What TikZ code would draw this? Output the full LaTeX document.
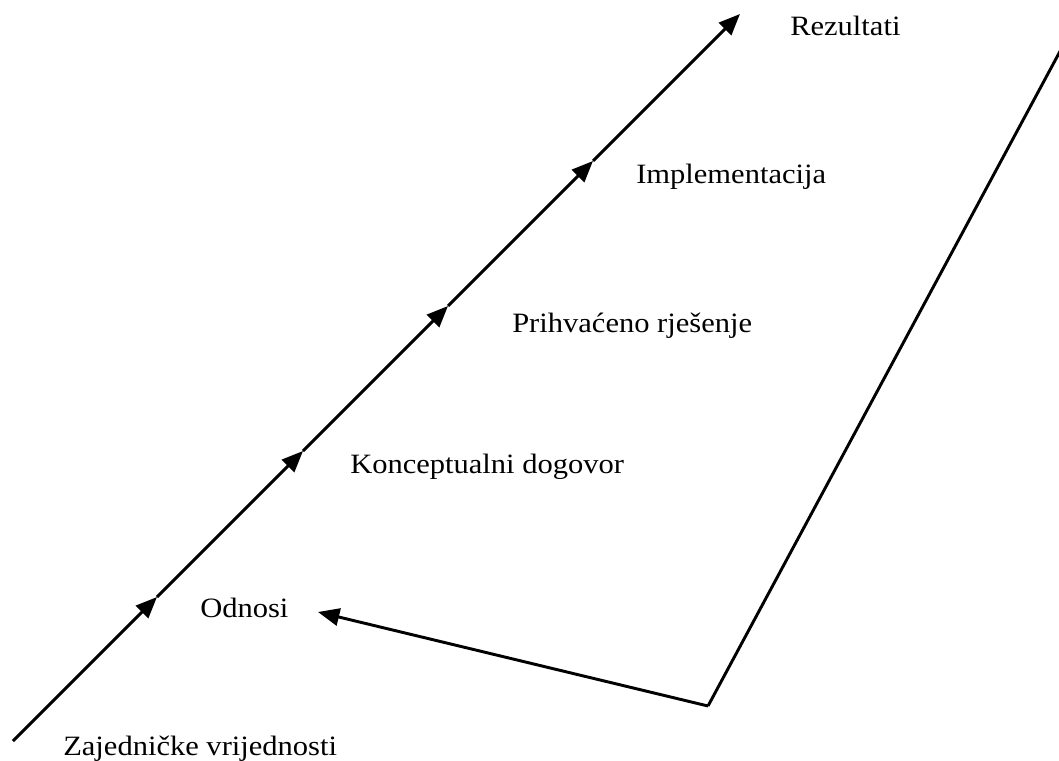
\documentclass[tikz,border=0pt]{standalone}
\usepackage{fontspec}
\setmainfont{Liberation Serif}[FakeStretch=1.09]
\usetikzlibrary{arrows.meta}
\tikzset{
  lbl/.style={anchor=base west, inner sep=0pt, font=\fontsize{21}{24}\selectfont},
  ln/.style={line width=2.2pt, -{Triangle[length=16pt, width=13pt]}},
  plain/.style={line width=2.2pt}
}
\begin{document}
\begin{tikzpicture}[x=0.75pt, y=-0.75pt]
\useasboundingbox (0,0) rectangle (1059,760);
\clip (0,0) rectangle (1059,760);
\coordinate (p0) at (13,741);
\coordinate (p1) at (157,597);
\coordinate (p2) at (303,451);
\coordinate (p3) at (448,306);
\coordinate (p4) at (593,161);
\coordinate (p5) at (740,14);
\coordinate (r0) at (1065,42);
\coordinate (r1) at (708,706);
\coordinate (r2) at (318,612);
\draw[ln] (p0) -- (p1);
\draw[ln] (p1) -- (p2);
\draw[ln] (p2) -- (p3);
\draw[ln] (p3) -- (p4);
\draw[ln] (p4) -- (p5);
\draw[plain] (r0) -- (r1);
\draw[ln] (r1) -- (r2);
\node[lbl] (t5) at (790,36) {Rezultati};
\node[lbl] (t4) at (636,183) {Implementacija};
\node[lbl] (t3) at (512,332) {Prihvaćeno rješenje};
\node[lbl] (t2) at (350,473) {Konceptualni dogovor};
\node[lbl] (t1) at (200,617) {Odnosi};
\node[lbl] (t0) at (63,755) {Zajedničke vrijednosti};
\end{tikzpicture}
\end{document}
